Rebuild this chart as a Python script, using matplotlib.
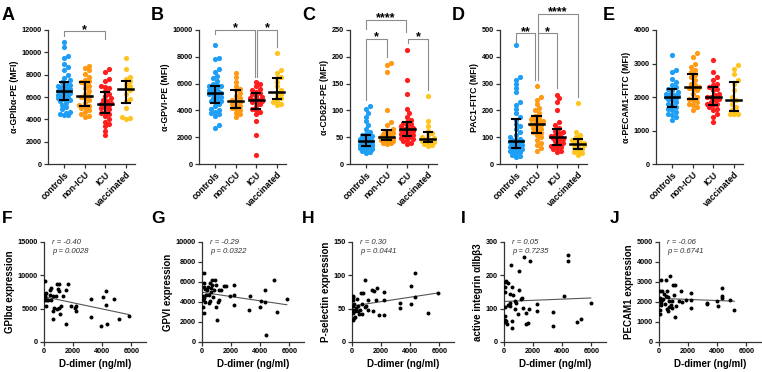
import numpy as np
import matplotlib.pyplot as plt

plt.rcParams['font.family'] = ['Liberation Sans', 'DejaVu Sans']

groups = ["controls", "non-ICU", "ICU", "vaccinated"]
group_colors = ["#1e9ff5", "#ff9a14", "#ff1e1e", "#ffc51e"]

# ---- top row: MFI per group ----
gp1b = [
    [10900, 10500, 9700, 9500, 9000, 8700, 8400, 8000, 7700, 7500, 7300, 7200, 7100, 7000,
     6900, 6800, 6700, 6600, 6550, 6500, 6500, 6450, 6400, 6300, 6200, 6100, 6000, 5900,
     5800, 5700, 5650, 5500, 5300, 5100, 4900, 4700, 4600, 4500, 4400, 4400],
    [8800, 8600, 8400, 8100, 7800, 7500, 7400, 7300, 7200, 7000, 6800, 6500, 6300, 6100,
     6000, 5900, 5700, 5500, 5300, 5200, 5100, 5000, 4800, 4700, 4500, 4300, 4200],
    [8500, 8200, 7600, 7400, 7000, 6900, 6800, 6500, 6300, 6100, 5900, 5700, 5600, 5500,
     5400, 5400, 5300, 5100, 5000, 4900, 4700, 4600, 4500, 4300, 4000, 3800, 3600, 3400,
     3000, 2600],
    [9500, 8500, 7800, 7600, 7400, 7200, 7000, 6800, 6600, 6300, 5800, 5600, 5000, 4200,
     4100, 4000],
]
gpvi = [
    [8900, 7900, 7800, 7100, 6900, 6600, 6400, 6200, 6000, 5900, 5800, 5800, 5700, 5600,
     5500, 5400, 5400, 5350, 5300, 5300, 5250, 5200, 5100, 5000, 4900, 4800, 4700, 4700,
     4600, 4500, 4300, 4100, 4000, 3900, 3800, 3700, 3600, 2900, 2700],
    [6800, 6500, 6100, 5800, 5600, 5500, 5300, 5100, 4900, 4800, 4700, 4600, 4500, 4400,
     4300, 4200, 4100, 4000, 3800, 3700, 3500],
    [6100, 6000, 5800, 5600, 5500, 5400, 5300, 5200, 5100, 5000, 4900, 4800, 4750, 4700,
     4650, 4600, 4500, 4300, 4100, 4000, 3900, 3700, 3200, 2200, 700],
    [8300, 7000, 6800, 6500, 6400, 6100, 5800, 5500, 5300, 5200, 5000, 4900, 4700, 4600,
     4500, 4400],
]
cd62p = [
    [108, 103, 95, 88, 80, 72, 65, 60, 56, 55, 53, 50, 48, 47, 46, 45, 44, 43, 42, 42, 42,
     41, 40, 39, 38, 37, 36, 35, 35, 34, 33, 32, 31, 30, 28, 26, 25, 22, 20],
    [188, 185, 171, 100, 78, 72, 66, 62, 60, 58, 56, 54, 52, 51, 50, 49, 48, 47, 46, 45,
     44, 43, 42, 41, 40, 39, 38],
    [213, 156, 130, 102, 95, 88, 82, 78, 76, 74, 72, 70, 68, 66, 65, 64, 62, 60, 58, 56,
     54, 52, 50, 48, 46, 44, 42, 40, 38],
    [127, 81, 70, 62, 58, 54, 50, 48, 47, 45, 43, 41, 40, 38, 36, 33],
]
pac1 = [
    [445, 325, 315, 300, 285, 270, 230, 220, 205, 190, 175, 165, 150, 140, 130, 120, 110,
     100, 95, 90, 88, 86, 85, 84, 82, 80, 78, 75, 72, 70, 68, 65, 62, 60, 58, 55, 52, 50,
     48, 45, 40, 35, 30, 25],
    [290, 250, 240, 225, 210, 200, 190, 180, 172, 168, 165, 160, 155, 150, 148, 146, 140,
     135, 130, 125, 120, 115, 110, 100, 90, 80, 70, 60, 50],
    [258, 245, 232, 200, 155, 145, 135, 125, 120, 115, 110, 105, 102, 100, 98, 95, 90, 85,
     80, 75, 70, 68, 65, 60, 55, 50, 45],
    [228, 120, 110, 100, 95, 90, 85, 80, 77, 75, 70, 65, 60, 57, 50, 45, 40, 35],
]
pecam1 = [
    [3250, 2800, 2750, 2550, 2450, 2350, 2300, 2250, 2200, 2150, 2100, 2080, 2050, 2020,
     2000, 2000, 1980, 1950, 1900, 1850, 1800, 1750, 1700, 1650, 1600, 1550, 1500, 1450,
     1400, 1300],
    [3300, 3200, 3000, 2900, 2800, 2750, 2650, 2600, 2500, 2400, 2350, 2300, 2280, 2250,
     2200, 2100, 2000, 1950, 1900, 1850, 1800, 1750, 1700, 1600],
    [3100, 2750, 2600, 2500, 2400, 2350, 2300, 2250, 2200, 2100, 2050, 2000, 2000, 1950,
     1900, 1850, 1800, 1780, 1750, 1700, 1650, 1600, 1500, 1400, 1250],
    [2950, 2850, 2700, 2500, 2400, 2200, 2000, 1900, 1800, 1700, 1600, 1550, 1500, 1500,
     1500],
]

top_letters = ["A", "B", "C", "D", "E"]
top_data = [gp1b, gpvi, cd62p, pac1, pecam1]
top_ylabels = ["α-GPIbα-PE (MFI)", "α-GPVI-PE (MFI)", "α-CD62P-PE (MFI)",
               "PAC1-FITC (MFI)", "α-PECAM1-FITC (MFI)"]
top_ymax = [12000, 10000, 250, 500, 4000]
top_ystep = [2000, 2000, 50, 100, 1000]
# (group a, group b, bracket height, leg end a, leg end b, label)
top_brackets = [
    [(0, 2, 11900, 11500, 11150, "*")],
    [(0, 2, 10000, 9700, 6500, "*"), (2, 3, 10000, 6500, 8750, "*")],
    [(0, 2, 269, 251, 247, "****"), (0, 1, 234, 119, 200, "*"), (2, 3, 234, 225, 138, "*")],
    [(0, 1, 487, 456, 313, "**"), (1, 2, 487, 313, 282, "*"), (1, 3, 560, 494, 251, "****")],
    [],
]

# ---- bottom row: correlation with D-dimer ----
f_x = [5820, 5120, 4810, 4290, 4240, 4240, 4020, 3930, 3250, 3250, 2230, 2230, 2140, 1830,
       1620, 1490, 1490, 1200, 1130, 1040, 1060, 1060, 880, 860, 950, 790, 720, 610, 610,
       610, 500, 500, 380, 380, 270, 160, 90, 90, 90, 160, 50, 50, 200, 1300]
f_y = [3850, 3450, 6500, 2750, 5500, 7700, 6700, 2350, 3750, 6450, 5450, 4700, 5100, 5350,
       8700, 7750, 2750, 5450, 4250, 8700, 7600, 5100, 4950, 8700, 7950, 6850, 5100, 4700,
       3450, 6850, 8100, 6350, 7100, 7850, 6350, 7350, 9100, 6600, 6250, 5450, 6850, 7200,
       6350, 6850]
g_x = [5820, 5180, 4910, 4410, 4320, 4290, 4040, 4000, 3260, 3240, 2190, 2190, 2170, 1900,
       1620, 1480, 1320, 1160, 1140, 1100, 1030, 960, 940, 870, 800, 750, 710, 680, 620,
       600, 570, 530, 460, 410, 340, 300, 230, 160, 160, 110, 110, 70, 50, 50, 110, 180,
       460]
g_y = [4270, 3000, 6200, 730, 5200, 3970, 4140, 3540, 4570, 3250, 4700, 3740, 5700, 4600,
       5560, 5600, 5200, 5200, 4200, 4000, 2250, 3540, 5700, 6200, 5230, 4500, 6200, 5700,
       5030, 5430, 5860, 4100, 3870, 5460, 5200, 4700, 5300, 6920, 4370, 5860, 5460, 4640,
       4200, 3540, 2880, 4040, 4700]
h_x = [5890, 5200, 4320, 4320, 4020, 4020, 3310, 3310, 2210, 2190, 2190, 1850, 1740, 1670,
       1480, 1350, 1440, 1120, 1100, 980, 890, 890, 750, 680, 660, 590, 530, 460, 410, 410,
       340, 300, 230, 110, 110, 90, 70, 50, 50, 50, 50, 50, 180]
h_y = [73.5, 43, 103, 67.5, 83.5, 57.5, 58, 50.5, 74.5, 62.5, 41, 40, 81, 63.5, 76, 77.5,
       46, 62.5, 48.5, 54.5, 93, 52.5, 74, 57.5, 42.5, 73, 48.5, 42.5, 54.5, 46.5, 65, 50.5,
       46.5, 57.5, 36, 33.5, 43.5, 69.5, 67.5, 63.5, 48.5, 54.5, 37.5]
i_x = [5950, 5280, 4980, 4400, 4400, 4100, 3360, 3360, 2290, 2270, 1780, 1690, 1620, 1480,
       1500, 1370, 1320, 1250, 1160, 1040, 1020, 970, 810, 760, 740, 620, 580, 530, 530,
       490, 440, 390, 300, 280, 210, 140, 90, 90, 90, 90, 70, 70, 70, 160, 390]
i_y = [116, 70, 61, 262, 243, 137, 90, 49, 114, 92, 242, 100, 57, 87, 54, 255, 102, 131,
       128, 214, 156, 85, 116, 123, 100, 140, 62, 165, 41, 231, 117, 145, 177, 111, 55,
       183, 180, 165, 151, 104, 77, 67, 59, 62, 107]
j_x = [5170, 4900, 4320, 4300, 4300, 3980, 4020, 3290, 3290, 2180, 2180, 2180, 1860, 1560,
       1490, 1360, 1150, 1100, 1080, 1030, 940, 920, 870, 800, 740, 710, 690, 640, 600, 570,
       530, 480, 460, 410, 340, 300, 210, 210, 140, 110, 90, 90, 70, 70, 70, 140]
j_y = [1590, 2080, 2700, 2300, 2210, 2050, 1800, 1970, 1900, 2110, 2460, 1690, 2080, 1980,
       2570, 2070, 1800, 1260, 2870, 2360, 2870, 2050, 1720, 1850, 3280, 2030, 1750, 2250,
       1560, 2540, 1640, 3110, 2300, 1920, 2380, 2130, 2080, 2540, 1870, 3110, 2540, 2110,
       1590, 1390, 2210, 1970]

bottom_letters = ["F", "G", "H", "I", "J"]
bottom_x = [f_x, g_x, h_x, i_x, j_x]
bottom_y = [f_y, g_y, h_y, i_y, j_y]
bottom_ylabels = ["GPIbα expression", "GPVI expression", "P-selectin expression",
                  "active integrin αIIbβ3", "PECAM1 expression"]
bottom_ymax = [15000, 10000, 150, 300, 5000]
bottom_ystep = [5000, 2000, 50, 100, 1000]
r_values = ["-0.40", "-0.29", "0.30", "0.05", "-0.06"]
p_values = ["0.0028", "0.0322", "0.0441", "0.7235", "0.6741"]

AX_COLOR = "#333333"
W, H = 762, 372


def swarm_offsets(vals, ymax, h_px=134.0, cat_px=20.6, d=4.0, max_px=7.0):
    """Simple deterministic beeswarm, done in pixel space."""
    y = np.asarray(vals, float) / ymax * h_px
    step = d / 2
    cands = [0.0]
    k = 1
    while k * step <= max_px:
        cands += [k * step, -k * step]
        k += 1
    placed = []
    offs = np.zeros(len(y))
    for i in np.argsort(y):
        best, best_gap = 0.0, -1.0
        for c in cands:
            gap = min([np.hypot(c - px, y[i] - py) for px, py in placed], default=99.0)
            if gap >= d:
                best = c
                break
            if gap > best_gap:
                best, best_gap = c, gap
        offs[i] = best
        placed.append((best, y[i]))
    return offs / cat_px


def style_axes(ax):
    for s in ["top", "right"]:
        ax.spines[s].set_visible(False)
    for s in ["left", "bottom"]:
        ax.spines[s].set_color(AX_COLOR)
        ax.spines[s].set_linewidth(0.9)
    ax.tick_params(direction="out", length=3, width=0.9, color=AX_COLOR, pad=1.5,
                   labelsize=5.2)
    for lab in ax.get_yticklabels() + ax.get_xticklabels():
        lab.set_fontweight("bold")


def dot_panel(ax, data, ymax, ystep, ylabel, brackets):
    for gi, vals in enumerate(data):
        off = swarm_offsets(vals, ymax)
        ax.scatter(gi + off, vals, s=14, color=group_colors[gi], linewidths=0, zorder=2)
        q1, med, q3 = np.percentile(vals, [25, 50, 75])
        ax.plot([gi - 0.36, gi + 0.36], [med, med], color="black", lw=1.8, zorder=3)
        ax.plot([gi, gi], [q1, q3], color="black", lw=1.5, zorder=3)
        for q in (q1, q3):
            ax.plot([gi - 0.2, gi + 0.2], [q, q], color="black", lw=1.5, zorder=3)
    ax.set_xlim(-0.78, 3.45)
    ax.set_ylim(0, ymax)
    ax.set_yticks(np.arange(0, ymax + 1, ystep))
    ax.set_xticks(range(len(groups)))
    ax.set_xticklabels(groups, rotation=45, ha="right", rotation_mode="anchor")
    ax.set_ylabel(ylabel, fontsize=6.3, fontweight="bold", labelpad=2)
    style_axes(ax)
    for lab in ax.get_xticklabels():
        lab.set_fontsize(6.3)
    for a, b, top, ea, eb, lab in brackets:
        xa = a + (0.06 if any(bb == a for _, bb, *_ in brackets) else 0)
        xb = b - (0.06 if any(aa == b for aa, *_ in brackets) else 0)
        ax.plot([xa, xa, xb, xb], [ea, top, top, eb], color="#8c8c8c", lw=0.8,
                clip_on=False, zorder=1)
        ax.text((xa + xb) / 2, top - ymax * 0.012, lab, ha="center", va="baseline",
                fontsize=9, fontweight="bold", clip_on=False)


def corr_panel(ax, x, y, ymax, ystep, ylabel, r, p):
    x = np.asarray(x, float)
    y = np.asarray(y, float)
    ax.scatter(x, y, s=8, color="black", linewidths=0, zorder=3)
    slope, icpt = np.polyfit(x, y, 1)
    xs = np.array([x.min(), x.max()])
    ax.plot(xs, icpt + slope * xs, color="#555555", lw=0.8, zorder=2)
    ax.set_xlim(0, 7000)
    ax.set_xticks([0, 2000, 4000, 6000])
    ax.set_ylim(0, ymax)
    ax.set_yticks(np.arange(0, ymax + 1, ystep))
    ax.set_ylabel(ylabel, fontsize=7, fontweight="bold", labelpad=2)
    ax.set_xlabel("D-dimer (ng/ml)", fontsize=7, fontweight="bold", labelpad=3)
    style_axes(ax)
    ax.text(0.08, 1.03, f"r = {r}\np = {p}", transform=ax.transAxes, va="top",
            ha="left", fontsize=5.6, style="italic", color="#333333", linespacing=1.35)


fig = plt.figure(figsize=(W / 100, H / 100), dpi=100)

top_lefts = [48, 199, 350, 500, 656]
top_letter_x = [2, 151, 302, 452, 603]
for i, left in enumerate(top_lefts):
    ax = fig.add_axes([left / W, 208 / H, 87 / W, 134 / H])
    dot_panel(ax, top_data[i], top_ymax[i], top_ystep[i], top_ylabels[i],
              top_brackets[i])
    fig.text(top_letter_x[i] / W, 1 - 20 / H, top_letters[i], fontsize=13,
             fontweight="bold", va="baseline", ha="left")

bottom_lefts = [44, 202, 352, 504, 659]
bottom_letter_x = [2, 151, 302, 461, 610]
for i, left in enumerate(bottom_lefts):
    ax = fig.add_axes([left / W, 30 / H, 102 / W, 100 / H])
    corr_panel(ax, bottom_x[i], bottom_y[i], bottom_ymax[i], bottom_ystep[i],
               bottom_ylabels[i], r_values[i], p_values[i])
    fig.text(bottom_letter_x[i] / W, 1 - 223 / H, bottom_letters[i], fontsize=12.5,
             fontweight="bold", va="baseline", ha="left")

fig.savefig("out.png", dpi=100)
